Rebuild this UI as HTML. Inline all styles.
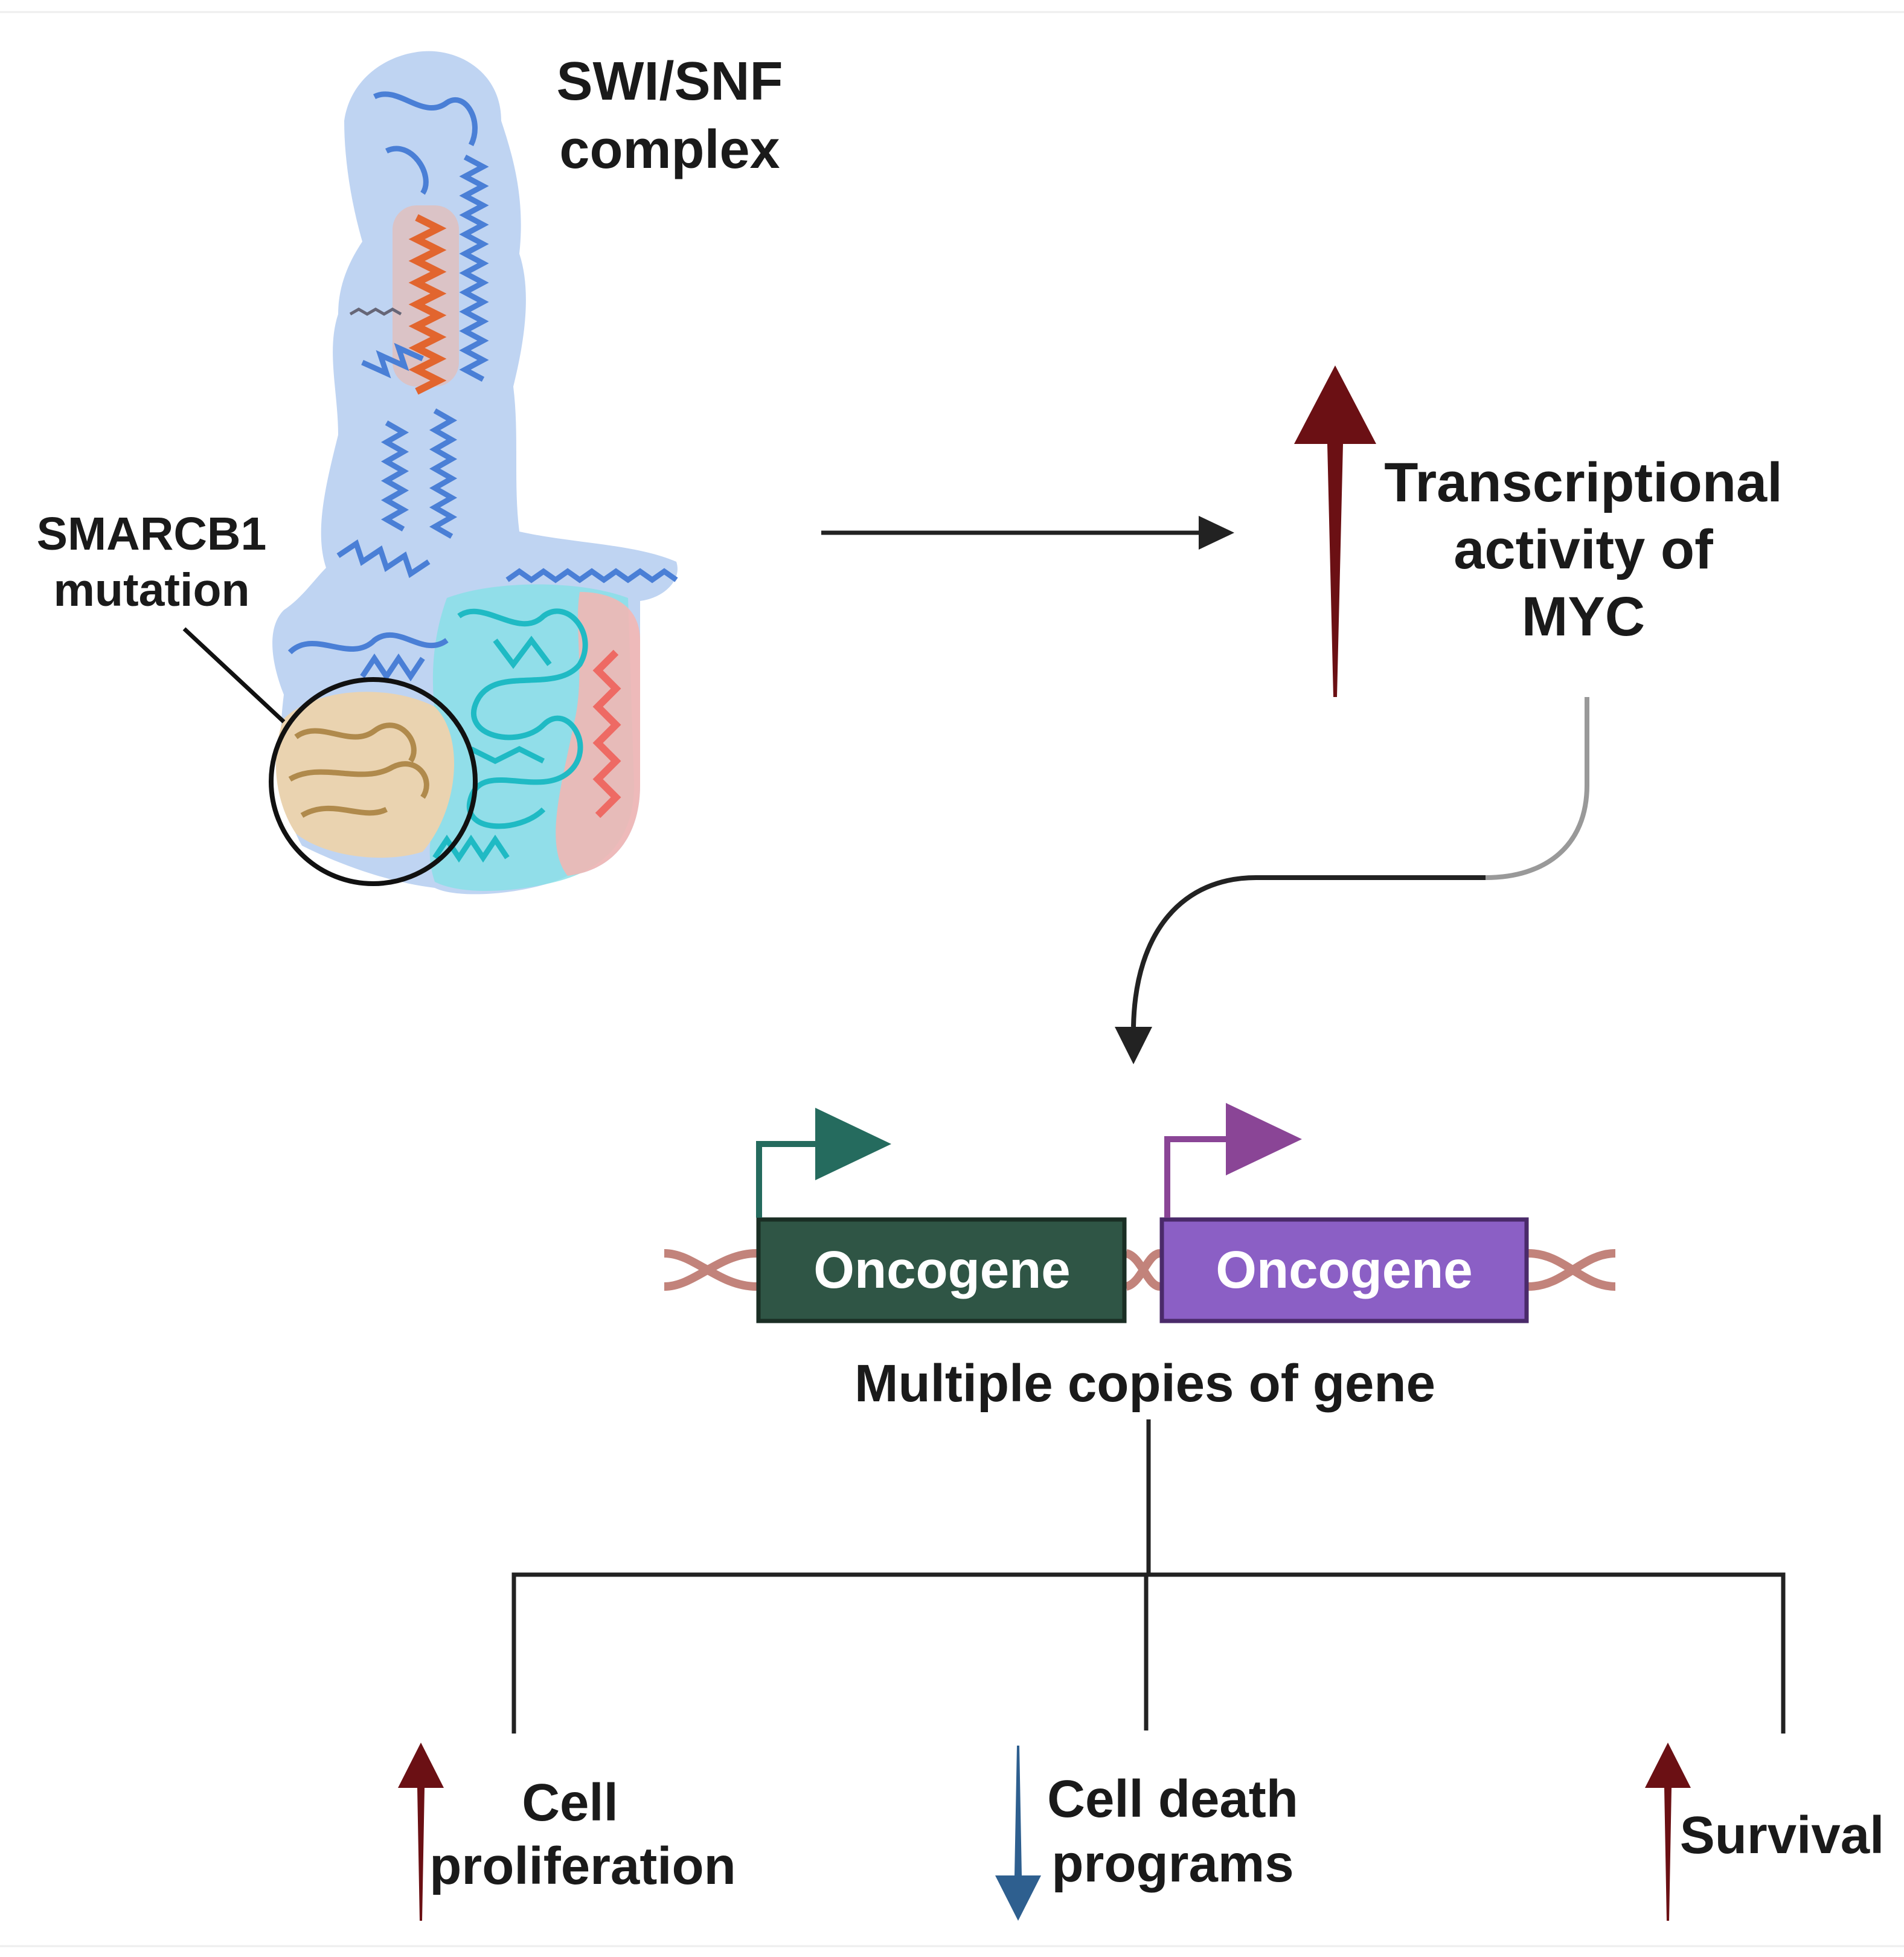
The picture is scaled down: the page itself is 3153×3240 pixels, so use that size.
<!DOCTYPE html>
<html><head><meta charset="utf-8"><style>
html,body{margin:0;padding:0;background:#fff}
svg{display:block}
text{font-family:"Liberation Sans",sans-serif;font-weight:bold;fill:#1a1a1a}
</style></head><body>
<svg width="3153" height="3240" viewBox="0 0 3153 3240" xmlns="http://www.w3.org/2000/svg">
<defs>
<linearGradient id="cg" x1="0" y1="0" x2="0" y2="1">
<stop offset="0" stop-color="#ddd"/><stop offset="0.5" stop-color="#777"/><stop offset="1" stop-color="#222"/>
</linearGradient>
</defs>
<line x1="0" y1="20" x2="3153" y2="20" stroke="#eee" stroke-width="3"/>
<line x1="0" y1="3222" x2="3153" y2="3222" stroke="#eee" stroke-width="3"/>

<!-- Protein surface -->
<path d="M700 85 C760 80 830 120 830 200 C850 260 870 330 860 420 C880 480 870 560 850 640 C860 720 850 800 860 880 C950 900 1050 900 1120 930 C1130 960 1100 990 1060 995 L1060 1300 C1060 1380 1020 1440 940 1450 C880 1480 760 1490 720 1470 C640 1460 560 1430 500 1400 C460 1330 460 1230 470 1150 C450 1100 440 1040 470 1010 C500 990 520 960 540 940 C520 880 540 800 560 720 C560 650 540 580 560 520 C560 470 580 430 600 400 C580 330 570 260 570 200 C580 130 640 90 700 85 Z" fill="#aac6ee" opacity="0.75"/>
<path d="M740 990 C820 960 960 960 1040 990 L1050 1300 C1050 1390 1000 1440 920 1460 C840 1480 760 1480 720 1460 C700 1400 720 1350 740 1300 C720 1200 700 1100 740 990 Z" fill="#86e0e6" opacity="0.8"/>
<path d="M960 980 C1010 980 1060 1000 1060 1060 L1060 1300 C1060 1380 1020 1440 940 1450 C900 1400 930 1300 950 1200 C970 1120 950 1040 960 980 Z" fill="#f6b5b0" opacity="0.85"/>
<path d="M470 1190 C520 1140 640 1130 720 1170 C770 1220 760 1340 700 1410 C640 1430 540 1420 490 1380 C450 1320 450 1240 470 1190 Z" fill="#ead3b0"/>
<rect x="650" y="340" width="110" height="300" rx="40" fill="#eeb8a8" opacity="0.6"/>
<path d="M690 360 l36 18 l-36 18 l36 18 l-36 18 l36 18 l-36 18 l36 18 l-36 18 l36 18 l-36 18 l36 18 l-36 18 l36 18 l-36 18 l36 18 l-36 18" stroke="#e2652e" stroke-width="12" fill="none"/>
<g stroke="#4a7fd6" stroke-width="9" fill="none">
<path d="M770 260 l30 16 l-30 16 l30 16 l-30 16 l30 16 l-30 16 l30 16 l-30 16 l30 16 l-30 16 l30 16 l-30 16 l30 16 l-30 16 l30 16 l-30 16 l30 16 l-30 16 l30 16 l-30 16 l30 16 l-30 16 l30 16"/>
<path d="M600 600 l40 18 l-10 -30 l40 18 l-10 -30 l40 18"/>
<path d="M640 700 l28 16 l-28 16 l28 16 l-28 16 l28 16 l-28 16 l28 16 l-28 16 l28 16 l-28 16 l28 16"/>
<path d="M720 680 l28 16 l-28 16 l28 16 l-28 16 l28 16 l-28 16 l28 16 l-28 16 l28 16 l-28 16 l28 16 l-28 16 l28 16"/>
<path d="M560 920 l30 -20 l10 30 l30 -20 l10 30 l30 -20 l10 30 l30 -20"/>
<path d="M840 960 l20 -14 l20 14 l20 -14 l20 14 l20 -14 l20 14 l20 -14 l20 14 l20 -14 l20 14 l20 -14 l20 14 l20 -14 l20 14"/>
<path d="M620 160 C660 140 700 200 740 170 C770 150 800 200 780 240 M640 250 C680 230 720 290 700 320"/>
<path d="M480 1080 C520 1040 580 1100 620 1060 C660 1030 700 1090 740 1060"/>
<path d="M600 1120 l20 -30 l20 30 l20 -30 l20 30 l20 -30"/>
</g>
<g stroke="#1fbac4" stroke-width="9" fill="none">
<path d="M760 1020 C800 990 860 1060 900 1020 C940 990 990 1050 960 1100 C920 1150 820 1100 790 1160 C760 1220 860 1240 900 1200 C940 1160 990 1240 940 1280 C890 1320 800 1260 780 1320 C760 1380 860 1380 900 1340"/>
<path d="M820 1060 l30 40 l30 -40 l30 40 M780 1240 l40 20 l40 -20 l40 20"/>
<path d="M720 1420 l20 -30 l20 30 l20 -30 l20 30 l20 -30 l20 30"/>
</g>
<path d="M1020 1080 l-30 30 l30 30 l-30 30 l30 30 l-30 30 l30 30 l-30 30 l30 30 l-30 30" stroke="#ee6a64" stroke-width="12" fill="none"/>
<g stroke="#b08a4c" stroke-width="9" fill="none">
<path d="M490 1220 C530 1190 580 1240 620 1210 C660 1180 700 1230 680 1260 M480 1290 C530 1260 600 1300 650 1270 C690 1250 720 1290 700 1320 M500 1350 C550 1320 600 1360 640 1340"/>
</g>
<path d="M580 520 l14 -8 l14 8 l14 -8 l14 8 l14 -8 l14 8" stroke="#667" stroke-width="5" fill="none"/>

<circle cx="618" cy="1294" r="169" fill="none" stroke="#111" stroke-width="8"/>
<line x1="305" y1="1041" x2="470" y2="1195" stroke="#111" stroke-width="7"/>

<text x="1109" y="165" font-size="90" text-anchor="middle">SWI/SNF</text>
<text x="1109" y="278" font-size="90" text-anchor="middle">complex</text>
<text x="251" y="910" font-size="77" text-anchor="middle">SMARCB1</text>
<text x="251" y="1003" font-size="77" text-anchor="middle">mutation</text>

<line x1="1360" y1="882" x2="1990" y2="882" stroke="#222" stroke-width="7"/>
<polygon points="1985,854 2044,882 1985,910" fill="#222"/>

<polygon points="2211,605 2279,735 2224,735 2214,1154 2208,1154 2198,735 2143,735" fill="#6b1014"/>
<text x="2622" y="830" font-size="92" text-anchor="middle">Transcriptional</text>
<text x="2622" y="941" font-size="92" text-anchor="middle">activity of</text>
<text x="2622" y="1052" font-size="92" text-anchor="middle">MYC</text>

<path d="M2628 1154 L2628 1300 C2628 1400 2560 1453 2460 1453" stroke="#999" stroke-width="8" fill="none"/>
<path d="M2460 1453 L2080 1453 C1960 1453 1880 1540 1877 1700" stroke="#222" stroke-width="8" fill="none"/>
<polygon points="1846,1700 1908,1700 1877,1762" fill="#222"/>

<g stroke="#c2837b" stroke-width="14" fill="none">
<path d="M1100 2075 C1150 2075 1190 2130 1253 2130"/>
<path d="M1100 2130 C1150 2130 1190 2075 1253 2075"/>
<path d="M1865 2075 C1890 2080 1900 2130 1921 2130"/>
<path d="M1865 2130 C1890 2125 1900 2075 1921 2075"/>
<path d="M2531 2130 C2590 2130 2620 2075 2675 2075"/>
<path d="M2531 2075 C2590 2075 2620 2130 2675 2130"/>
</g>
<rect x="1256" y="2019" width="606" height="168" fill="#2f5545" stroke="#1a2e24" stroke-width="7"/>
<rect x="1924" y="2019" width="604" height="168" fill="#8b5fc5" stroke="#4a2a6a" stroke-width="7"/>
<text x="1560" y="2132" font-size="87" text-anchor="middle" style="fill:#fff">Oncogene</text>
<text x="2226" y="2132" font-size="87" text-anchor="middle" style="fill:#fff">Oncogene</text>

<polyline points="1257,2016 1257,1894 1360,1894" stroke="#256b5e" stroke-width="10" fill="none"/>
<polygon points="1350,1834 1476,1894 1350,1954" fill="#256b5e"/>
<polyline points="1933,2016 1933,1886 2040,1886" stroke="#8a4596" stroke-width="10" fill="none"/>
<polygon points="2030,1826 2156,1886 2030,1946" fill="#8a4596"/>

<text x="1896" y="2320" font-size="87" text-anchor="middle">Multiple copies of gene</text>

<g stroke="#222" stroke-width="7" fill="none">
<line x1="1902" y1="2350" x2="1902" y2="2607"/>
<polyline points="851,2870 851,2607 2953,2607 2953,2870"/>
<line x1="1898" y1="2607" x2="1898" y2="2865"/>
</g>

<polygon points="697,2885 735,2960 703,2960 699,3180 695,3180 691,2960 659,2960" fill="#6b1014"/>
<polygon points="1686,3180 1724,3105 1692,3105 1688,2890 1684,2890 1680,3105 1648,3105" fill="#2e5f8f"/>
<polygon points="2762,2885 2800,2960 2768,2960 2764,3180 2760,3180 2756,2960 2724,2960" fill="#6b1014"/>

<text x="944" y="3014" font-size="87" text-anchor="middle">Cell</text>
<text x="965" y="3119" font-size="87" text-anchor="middle">proliferation</text>
<text x="1942" y="3008" font-size="87" text-anchor="middle">Cell death</text>
<text x="1942" y="3115" font-size="87" text-anchor="middle">programs</text>
<text x="2951" y="3068" font-size="87" text-anchor="middle">Survival</text>
</svg>
</body></html>
